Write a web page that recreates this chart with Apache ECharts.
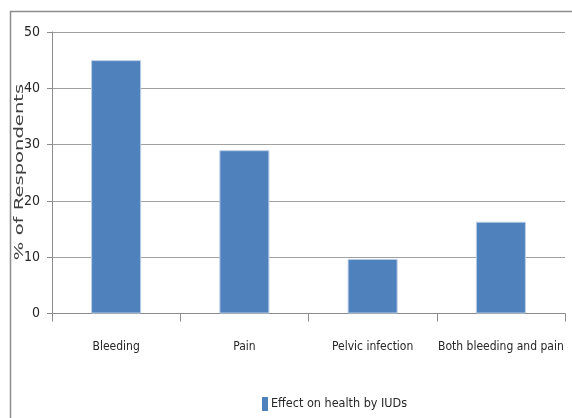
<!DOCTYPE html>
<html>
<head>
<meta charset="utf-8">
<script src="https://cdn.jsdelivr.net/npm/echarts@6/dist/echarts.min.js"></script>
<style>
  html, body { margin: 0; padding: 0; background: #fff; }
  #chart { width: 572px; height: 418px; }
</style>
</head>
<body>
<div id="chart"></div>
<script>
// Reported health effects of IUD use (% of respondents)
const categories = ['Bleeding', 'Pain', 'Pelvic infection', 'Both bleeding and pain'];
const effectValues = [45, 29, 9.7, 16.3];
const seriesName = 'Effect on health by IUDs';
const yTitle = '% of Respondents';

const narrow = '"DejaVu Sans Condensed", "Liberation Sans Narrow", sans-serif';
const chart = echarts.init(document.getElementById('chart'), null, { renderer: 'canvas' });

chart.setOption({
  animation: false,
  backgroundColor: '#ffffff',
  grid: { left: 52, right: 7, top: 32, bottom: 104.5, containLabel: false },
  legend: {
    data: [seriesName],
    left: 262,
    top: 397,
    padding: 0,
    itemWidth: 6,
    itemHeight: 14,
    icon: 'rect',
    itemStyle: { borderWidth: 0 },
    textStyle: { fontFamily: narrow, fontSize: 12.5, color: '#262626', padding: [0, 0, 0, -2] }
  },
  graphic: [
    {
      type: 'rect',
      silent: true,
      shape: { x: 10.5, y: 11.5, width: 700, height: 600 },
      style: { fill: 'none', stroke: '#8c8c8c', lineWidth: 1.5 }
    },
    {
      type: 'text',
      silent: true,
      x: 20,
      y: 172,
      rotation: Math.PI / 2,
      scaleX: 1.63,
      style: {
        text: yTitle,
        font: '12px "DejaVu Sans", sans-serif',
        fill: '#404040',
        align: 'center',
        verticalAlign: 'middle'
      }
    }
  ],
  xAxis: {
    type: 'category',
    data: categories,
    boundaryGap: true,
    axisLine: { show: true, lineStyle: { color: '#8c8c8c', width: 1 } },
    axisTick: { show: true, inside: false, length: 8, lineStyle: { color: '#8c8c8c' } },
    axisLabel: {
      margin: 27,
      interval: 0,
      fontFamily: narrow,
      fontSize: 12,
      color: '#262626'
    },
    splitLine: { show: false }
  },
  yAxis: {
    type: 'value',
    min: 0,
    max: 50,
    interval: 10,
    axisLine: { show: true, lineStyle: { color: '#8c8c8c', width: 1 } },
    axisTick: { show: true, inside: false, length: 5, lineStyle: { color: '#8c8c8c' } },
    axisLabel: {
      margin: 12,
      fontFamily: narrow,
      fontSize: 14,
      color: '#262626'
    },
    splitLine: { show: true, lineStyle: { color: '#a0a0a0', width: 1.2 } }
  },
  series: [
    {
      name: seriesName,
      type: 'bar',
      data: effectValues,
      barCategoryGap: '61%',
      itemStyle: { color: '#4f81bd', borderColor: '#b9cde5', borderWidth: 1 }
    }
  ]
});
</script>
</body>
</html>
